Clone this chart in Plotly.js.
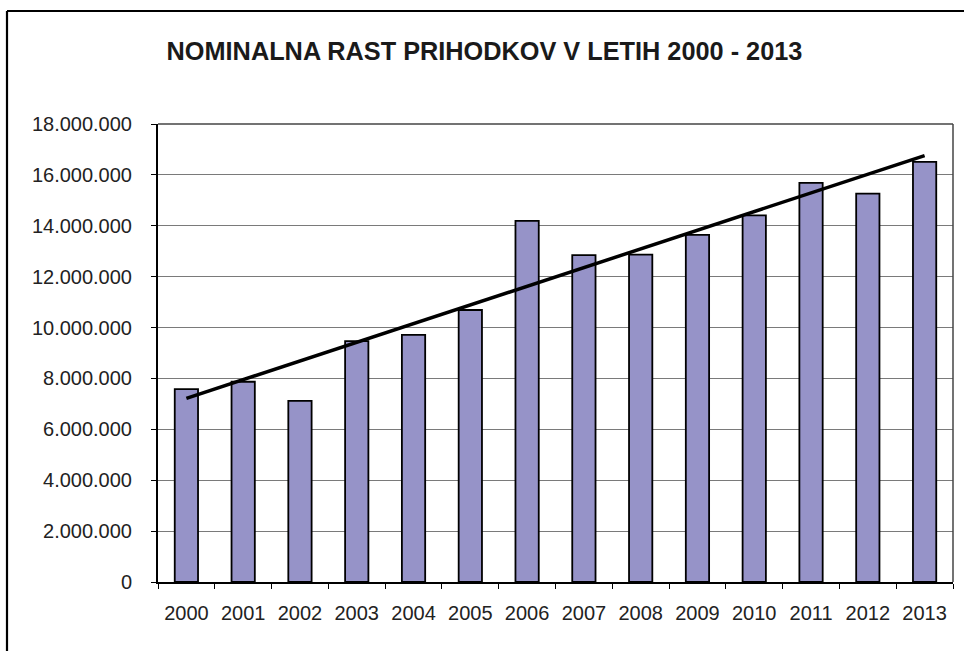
<!DOCTYPE html>
<html>
<head>
<meta charset="utf-8">
<script src="https://cdn.plot.ly/plotly-3.0.1.min.js"></script>
<style>html,body{margin:0;padding:0;background:#fff;}#chart{width:964px;height:651px;}</style>
</head>
<body>
<div id="chart"></div>
<script>
const years = ["2000","2001","2002","2003","2004","2005","2006","2007","2008","2009","2010","2011","2012","2013"];
const revenues = [7580000, 7870000, 7120000, 9470000, 9710000, 10690000, 14190000, 12850000, 12870000, 13640000, 14410000, 15690000, 15260000, 16510000];
const yTicks = [0, 2000000, 4000000, 6000000, 8000000, 10000000, 12000000, 14000000, 16000000, 18000000];
const titleText = "NOMINALNA RAST PRIHODKOV V LETIH 2000 - 2013";

// linear trendline (least squares) computed from the series
const n = revenues.length;
const xs = revenues.map((_, i) => i);
const mx = xs.reduce((a, b) => a + b, 0) / n;
const my = revenues.reduce((a, b) => a + b, 0) / n;
let sxy = 0, sxx = 0;
for (let i = 0; i < n; i++) { sxy += (xs[i] - mx) * (revenues[i] - my); sxx += (xs[i] - mx) ** 2; }
const slope = sxy / sxx, intercept = my - slope * mx;
const trend = xs.map(x => intercept + slope * x);

const font = {family: "Liberation Sans, Arial, sans-serif", color: "#222"};

const data = [
  {type: "bar", x: years, y: revenues, width: 0.41,
   marker: {color: "#9693C8", line: {color: "#000", width: 1.8}}, hoverinfo: "skip"},
  {type: "scatter", mode: "lines", x: [years[0], years[n - 1]], y: [trend[0], trend[n - 1]],
   line: {color: "#000", width: 3.5}, hoverinfo: "skip"}
];

const layout = {
  width: 964, height: 651,
  margin: {l: 158, r: 11, t: 124, b: 69, pad: 0},
  paper_bgcolor: "#fff", plot_bgcolor: "#fff",
  showlegend: false,
  separators: ",.",
  font: Object.assign({size: 20}, font),
  title: {text: "<b>" + titleText + "</b>", font: Object.assign({}, font, {size: 25.3, color: "#1a1a1a"}),
          x: 484.5 / 964, xanchor: "center", y: 1 - 51 / 651, yanchor: "middle", xref: "container", yref: "container"},
  xaxis: {type: "category", tickson: "boundaries", ticks: "outside", ticklen: 5, tickcolor: "#000", tickwidth: 1,
          showline: true, linecolor: "#000", linewidth: 2, showgrid: false, zeroline: false,
          tickfont: Object.assign({size: 20}, font), ticklabelstandoff: 12, fixedrange: true},
  yaxis: {range: [0, 18000000], tickvals: yTicks, tickformat: ",.0f", ticks: "outside", ticklen: 5, tickcolor: "#000", tickwidth: 1,
          showline: true, linecolor: "#000", linewidth: 2, showgrid: true, gridcolor: "#7a7a7a", gridwidth: 1,
          zeroline: false, tickfont: Object.assign({size: 20}, font), ticklabelstandoff: 15, fixedrange: true},
  shapes: [
    {type: "line", xref: "paper", yref: "paper", x0: 0, x1: 1, y0: 1, y1: 1, line: {color: "#444", width: 1.5}},
    {type: "line", xref: "paper", yref: "paper", x0: 1, x1: 1, y0: 0, y1: 1, line: {color: "#444", width: 1.5}},
    {type: "line", xref: "paper", yref: "paper", x0: (7 - 158) / 795, x1: (980 - 158) / 795,
     y0: (582 - 11) / 458, y1: (582 - 11) / 458, line: {color: "#000", width: 2.2}},
    {type: "line", xref: "paper", yref: "paper", x0: (7 - 158) / 795, x1: (7 - 158) / 795,
     y0: (582 - 11) / 458, y1: (582 - 670) / 458, line: {color: "#000", width: 2.2}}
  ]
};

Plotly.newPlot("chart", data, layout, {staticPlot: true, displayModeBar: false});
</script>
</body>
</html>
